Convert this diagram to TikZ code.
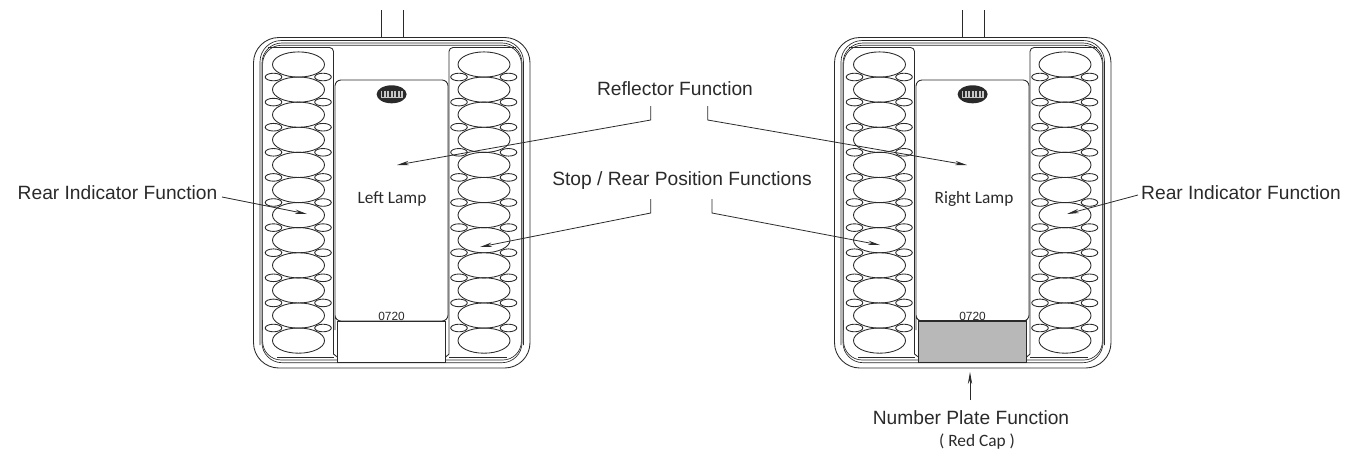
\documentclass[tikz,border=0pt]{standalone}
\usepackage{fontspec}
\setmainfont{Liberation Sans}
\newfontfamily\lampfont{Carlito}
\usetikzlibrary{arrows.meta}
\definecolor{ink}{HTML}{2A2A2A}
\definecolor{capgrey}{HTML}{B8B8B8}
\tikzset{
  lampline/.style={draw=ink,line width=0.65pt},
  thinline/.style={draw=ink,line width=0.5pt},
  callout/.style={draw=ink,line width=0.6pt,-{Stealth[length=9pt,width=3.2pt]}},
  label/.style={text=ink,font=\fontsize{14.4}{17}\selectfont,inner sep=0pt,anchor=center},
  lamplabel/.style={text=ink,font=\lampfont\fontsize{13}{16}\selectfont,inner sep=0pt,anchor=center},
  codelabel/.style={text=ink,font=\fontsize{8.9}{11}\selectfont,inner sep=0pt,anchor=center},
  lampbody/.pic={
    % feed stubs
    \draw[lampline] (381,10) -- (381,37.5) (403,10) -- (403,37.5);
    % body outlines
    \draw[lampline,rounded corners=19pt] (253.5,37.5) rectangle (530,368);
    \draw[thinline,rounded corners=16pt] (260,345) -- (260,40.5) -- (523.5,40.5) -- (523.5,345);
    \draw[thinline,rounded corners=15pt] (262,362.7) -- (262,43) -- (522,43) -- (522,362.7) -- cycle;
    \draw[thinline,rounded corners=14pt] (262.6,330) -- (262.6,45.3) -- (521.4,45.3) -- (521.4,360) -- (445.7,360);
    \draw[thinline,rounded corners=14pt] (337.3,360) -- (262.6,360) -- (262.6,320);
    % side panels
    \draw[lampline,rounded corners=3pt] (268,47.5) -- (333.5,47.5) -- (333.5,350);
    \draw[lampline] (333.5,350) -- (333.5,354) -- (337.3,357);
    \draw[lampline,rounded corners=3pt] (516,47.5) -- (449,47.5) -- (449,350);
    \draw[lampline] (449,350) -- (449,354) -- (445.7,357);
    \draw[thinline] (277,357.5) -- (333.5,357.5) (449,357.5) -- (507,357.5);
    % centre panel
    \draw[lampline,rounded corners=4.5pt] (335,330) -- (335,80) -- (448,80) -- (448,321) -- (335,321) -- (335,300);
    % lens columns
    \foreach \cx in {298.5,484}{
      \foreach \i in {0,...,10}{
        \pgfmathsetmacro{\yy}{77+25.1*\i}
        \draw[lampline,fill=white] (\cx-25,\yy) ellipse[x radius=8.3,y radius=3.8];
        \draw[lampline,fill=white] (\cx+24.5,\yy) ellipse[x radius=8.3,y radius=3.8];
      }
      \foreach \i in {0,...,11}{
        \pgfmathsetmacro{\yy}{64.5+25.1*\i}
        \draw[lampline] (\cx,\yy) ellipse[x radius=26,y radius=12.6];
      }
    }
    % logo
    \fill[ink] (391.6,94.3) ellipse[x radius=15,y radius=9];
    \fill[gray!45] (380.5,90.8) rectangle (402.7,97.8);
    \foreach \lx in {383,386.5,390,393.5,397,400.5}{\draw[ink,line width=0.8pt] (\lx,91.2) -- (\lx,97.4);}
  }
}
\begin{document}
\begin{tikzpicture}[x=0.75pt,y=-0.75pt]
\useasboundingbox (0,0) rectangle (1345,451);
\pic (leftlamp) at (0,0) {lampbody};
\pic (rightlamp) at (581,0) {lampbody};
\path[fill=white] (338,322) rectangle (445,362);
\path[fill=capgrey,draw=ink,line width=0.9pt] (918.3,321) rectangle (1026.7,362.7);
\draw[lampline] (337.3,321) -- (337.3,362.7) -- (445.7,362.7) -- (445.7,321) -- cycle;

\node[lamplabel] (leftname) at (392,198.5) {Left Lamp};
\node[lamplabel] (rightname) at (974,198.5) {Right Lamp};
\node[codelabel] (leftcode) at (391.5,316) {0720};
\node[codelabel] (rightcode) at (972.5,316) {0720};
\node[label] (reflector) at (675,88.5) {Reflector Function};
\node[label] (stop) at (682,180.5) {Stop / Rear Position Functions};
\node[label] (rearleft) at (117.5,192.5) {Rear Indicator Function};
\node[label] (rearright) at (1241,192.5) {Rear Indicator Function};
\node[label] (plate) at (971,418) {Number Plate Function};
\node[lamplabel] (redcap) at (977,442) {( Red Cap )};

\coordinate (rfa) at (650.7,106);
\coordinate (rfb) at (650.7,120);
\coordinate (rfc) at (707.7,106);
\coordinate (rfd) at (707.7,120);
\coordinate (spa) at (650.7,199);
\coordinate (spb) at (650.7,213);
\coordinate (spc) at (712,199);
\coordinate (spd) at (712,213);
\coordinate (rfl) at (397,165);
\coordinate (rfr) at (967,165);
\coordinate (spl) at (480,247);
\coordinate (spr) at (880,245);
\coordinate (ril) at (307,214);
\coordinate (rir) at (1067,214);
\coordinate (rils) at (222,197);
\coordinate (rirs) at (1138,195);
\coordinate (npa) at (970,400);
\coordinate (npb) at (970,372);

\draw[callout] (rfa) -- (rfb) -- (rfl);
\draw[callout] (rfc) -- (rfd) -- (rfr);
\draw[callout] (spa) -- (spb) -- (spl);
\draw[callout] (spc) -- (spd) -- (spr);
\draw[callout] (rils) -- (ril);
\draw[callout] (rirs) -- (rir);
\draw[callout] (npa) -- (npb);
\end{tikzpicture}
\end{document}
